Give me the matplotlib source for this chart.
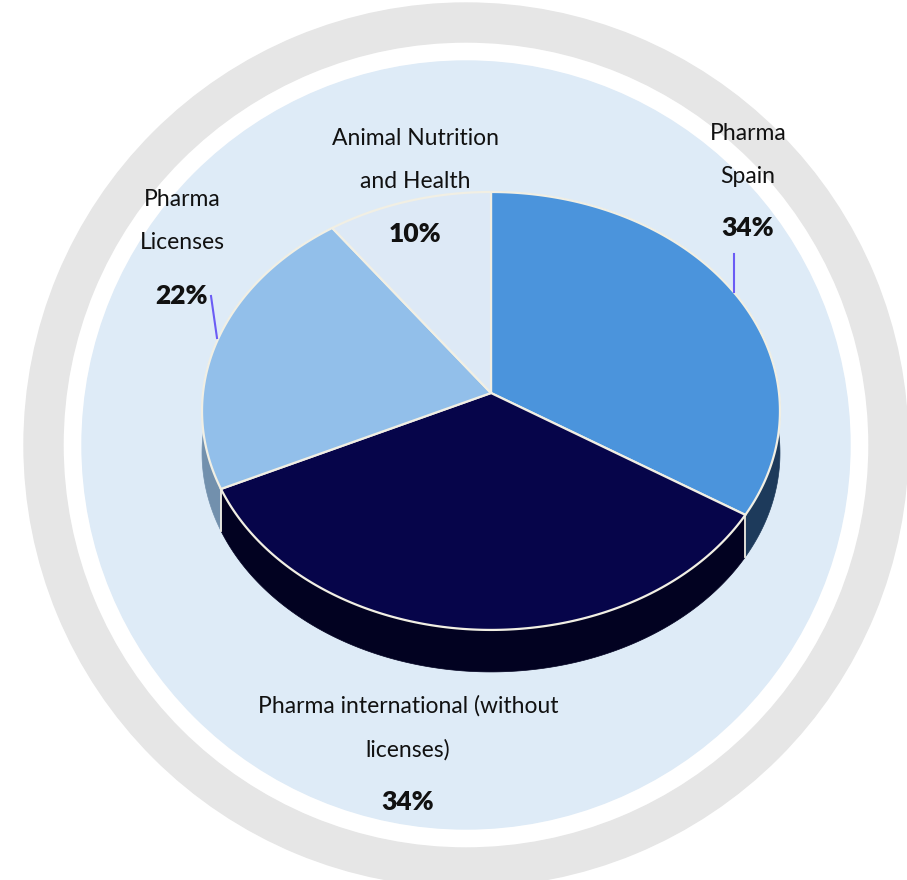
import numpy as np
import matplotlib.pyplot as plt
from matplotlib.patches import Circle, Wedge, Polygon

# slice data (clockwise from the top)
names = ['Pharma\nSpain', 'Pharma international (without\nlicenses)',
         'Pharma\nLicenses', 'Animal Nutrition\nand Health']
shares = [34, 34, 22, 10]
top_colors = ['#4b94dc', '#06054a', '#92bfea', '#dde9f6']
side_colors = ['#1d3a5b', '#020221', '#7290ad', '#b9c9d9']

W, H = 907, 880
fig = plt.figure(figsize=(W / 100, H / 100), dpi=100)
ax = fig.add_axes([0, 0, 1, 1])
ax.set_xlim(0, W)
ax.set_ylim(H, 0)
ax.axis('off')

# backdrop rings
ax.add_patch(Wedge((466, 445), 442, 0, 360, width=39, color='#e6e6e6', zorder=0))
ax.add_patch(Circle((466, 445), 384, color='#deebf7', zorder=1))

# perspective pie
cx, cy = 491, 393
rx, ry, k, depth = 288, 217.5, 0.082, 42
edge = '#f1efe4'


def proj(theta):
    X = np.sin(theta)
    Y = -np.cos(theta)
    w = 1 - k * Y
    return cx + rx * X / w, cy + ry * Y / w


bounds = np.concatenate([[0], np.cumsum(shares)]) / sum(shares) * 2 * np.pi

# sides first
for i in range(len(shares)):
    t = np.linspace(bounds[i], bounds[i + 1], 200)
    x, y = proj(t)
    pts = np.column_stack([np.r_[x, x[::-1]], np.r_[y, y[::-1] + depth]])
    ax.add_patch(Polygon(pts, closed=True, facecolor=side_colors[i],
                         edgecolor=side_colors[i], lw=0.5, zorder=2))

# vertical edges at front boundaries
for b in bounds[1:-1]:
    bx, by = proj(b)
    if -np.cos(b) > 0:
        ax.plot([bx, bx], [by, by + depth], color=edge, lw=1.3, zorder=2.5)

# top faces
for i in range(len(shares)):
    t = np.linspace(bounds[i], bounds[i + 1], 200)
    x, y = proj(t)
    pts = np.column_stack([np.r_[cx, x], np.r_[cy, y]])
    ax.add_patch(Polygon(pts, closed=True, facecolor=top_colors[i],
                         edgecolor=edge, lw=1.6, zorder=3))

# labels
font = 'Lato'
label_pos = [(748, 155, 228), (408, 728, 802), (182, 221, 296), (415, 160, 234)]
for name, s, (lx, ly, py) in zip(names, shares, label_pos):
    ax.text(lx, ly, name, ha='center', va='center', fontsize=16.5,
            family=font, color='#111111', linespacing=2.3, zorder=5)
    ax.text(lx, py, f'{s}%', ha='center', va='center', fontsize=19,
            family=font, fontweight='heavy', color='#111111', zorder=5)

# leader lines
ax.plot([734, 734], [254, 292], color='#6b5cf5', lw=1.5, zorder=5)
ax.plot([211, 217], [296, 338], color='#6b5cf5', lw=1.5, zorder=5)

fig.savefig('out.png', dpi=100)
